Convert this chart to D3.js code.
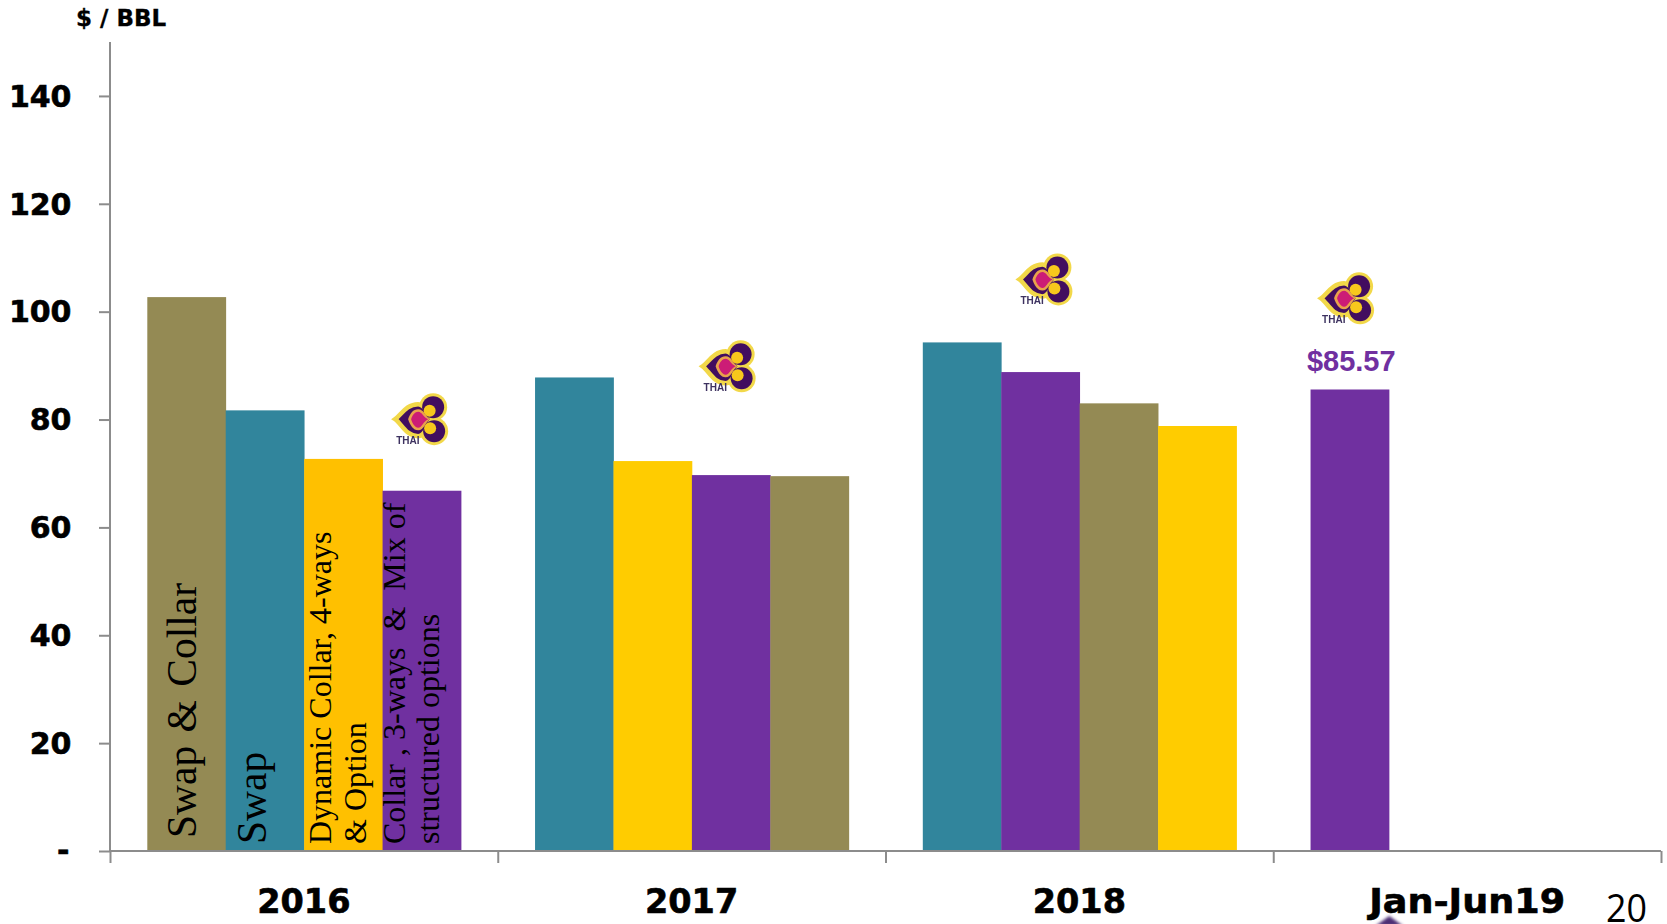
<!DOCTYPE html>
<html><head><meta charset="utf-8">
<script src="https://cdn.jsdelivr.net/npm/d3@7"></script>
<style>html,body{margin:0;padding:0;background:#fff;overflow:hidden}svg{display:block}text{white-space:pre}</style>
</head><body><svg id="c" width="1667" height="924"></svg>
<script>
const periods = ["2016","2017","2018","Jan-Jun19"];
const yTickValues = [0,20,40,60,80,100,120,140];
const values2016 = [102.7,81.7,72.7,66.8];
const values2017 = [87.8,72.3,69.7,69.5];
const values2018 = [94.3,88.8,83.0,78.8];
const values2019 = [85.57];
const kinds2016 = ["olive","teal","amber","purple"];
const kinds2017 = ["teal","yellow","purple","olive"];
const kinds2018 = ["teal","purple","olive","yellow"];
const kinds2019 = ["purple"];
const logoLevels = [79.7,89.5,105.6,102.1];
const logoPositions = [0.805,1.598,2.415,3.193];
const annotation = "$85.57";
const colours = {olive:"#948A54",teal:"#31859C",amber:"#FFC000",yellow:"#FFCC00",purple:"#7030A0"};

const svg = d3.select("#c");
const x0 = d3.scaleBand().domain(periods).range([110,1661]);
const x1 = d3.scaleBand().domain(d3.range(4)).range([37.3,351]);
const xp = d3.scaleLinear().domain([0,4]).range([110,1661]);
const y = d3.scaleLinear().domain([0,150]).range([851,42]);

const groups = [
  {p:periods[0],v:values2016,k:kinds2016},
  {p:periods[1],v:values2017,k:kinds2017},
  {p:periods[2],v:values2018,k:kinds2018},
  {p:periods[3],v:values2019,k:kinds2019}];
groups.forEach(g=>{
  svg.append("g").selectAll("rect").data(g.v).join("rect")
    .attr("x",(d,i)=>x0(g.p)+x1(i)).attr("width",x1.bandwidth()+0.4)
    .attr("y",d=>y(d)).attr("height",d=>y(0)-y(d))
    .attr("fill",(d,i)=>colours[g.k[i]]);
});

// Axes
const axisCol="#8c8c8c";
const yAxis = d3.axisLeft(y).tickValues(yTickValues).tickSize(11).tickPadding(27.5)
  .tickFormat(d=>d===0?"-":d);
const ga = svg.append("g").attr("transform","translate(110,0)").call(yAxis);
ga.select(".domain").attr("stroke",axisCol).attr("stroke-width",2).attr("d","M0,42V851");
ga.selectAll("line").attr("stroke",axisCol).attr("stroke-width",2);
ga.selectAll("text").attr("font-family","DejaVu Sans").attr("font-weight","bold")
  .attr("font-size",30).attr("fill","#000").attr("stroke","#000").attr("stroke-width",0.6).attr("dy","0.34em");
ga.selectAll(".tick").filter(d=>d===0).select("text").attr("dx",-2).attr("dy","0.32em");

const xAxis = d3.axisBottom(xp).tickValues([0,1,2,3,4]).tickSize(12).tickFormat("");
const gx = svg.append("g").attr("transform","translate(0,851)").call(xAxis);
gx.select(".domain").attr("stroke",axisCol).attr("stroke-width",2).attr("d","M110,0H1661");
gx.selectAll("line").attr("stroke",axisCol).attr("stroke-width",2);

svg.append("g").selectAll("text").data(periods).join("text")
  .attr("x",d=>x0(d)+x0.bandwidth()/2).attr("y",913)
  .attr("text-anchor","middle").attr("font-family","DejaVu Sans").attr("font-weight","bold")
  .attr("font-size",33.5).attr("fill","#000").attr("stroke","#000").attr("stroke-width",0.6)
  .attr("textLength",d=>d===periods[3]?196:null).attr("lengthAdjust","spacingAndGlyphs").text(d=>d);

svg.append("text").attr("x",76).attr("y",26).attr("font-family","DejaVu Sans")
  .attr("font-weight","bold").attr("font-size",23).attr("fill","#000").attr("stroke","#000").attr("stroke-width",0.3).text("$ / BBL");

svg.append("text").attr("x",1606).attr("y",922).attr("font-family","Open Sans")
  .attr("font-size",38).attr("textLength",41).attr("lengthAdjust","spacingAndGlyphs").attr("fill","#000").text("20");

svg.append("text").attr("x",x0(periods[3])+x1(0)+x1.bandwidth()/2+1.5).attr("y",y(values2019[0])-18)
  .attr("text-anchor","middle").attr("font-family","Liberation Sans").attr("font-weight","bold")
  .attr("font-size",29).attr("fill",colours.purple).text(annotation);

// Rotated serif labels inside the 2016 bars
const labels = [
  {t:"Swap & Collar",x:196,fs:41.5,b:838,ws:3},
  {t:"Swap",x:266,fs:41.5,b:844,ws:0},
  {t:"Dynamic Collar, 4-ways",x:331,fs:32,b:844,ws:0},
  {t:"& Option",x:366,fs:32,b:844,ws:0},
  {t:"Collar , 3-ways  &  Mix of",x:405,fs:32,b:844,ws:0},
  {t:"structured options",x:439,fs:32,b:844,ws:0}];
svg.append("g").selectAll("text").data(labels).join("text")
  .attr("transform",d=>`translate(${d.x},${d.b}) rotate(-90)`)
  .attr("font-family","Liberation Serif").attr("font-size",d=>d.fs)
  .attr("word-spacing",d=>d.ws).attr("fill","#000").text(d=>d.t);

// Logo
const defs = svg.append("defs");
defs.append("filter").attr("id","soft").attr("x","-20%").attr("y","-20%").attr("width","140%").attr("height","140%")
  .append("feGaussianBlur").attr("stdDeviation",0.7);
defs.append("filter").attr("id","soft2").attr("x","-50%").attr("y","-50%").attr("width","200%").attr("height","200%")
  .append("feGaussianBlur").attr("stdDeviation",1.6);
const logos = svg.append("g").selectAll("g").data(logoPositions).join("g")
  .attr("transform",(d,i)=>`translate(${xp(d)},${y(logoLevels[i])})`).attr("filter","url(#soft)");
logos.each(function(){
  const g=d3.select(this);
  const halo="#F2D84A", dark="#43105F", gold="#F7C81C";
  const drop="M-27,-2C-21,-6 -16,-17 -4,-17C4,-17 5,-6 11,-2C5,2 4,15 -4,15C-16,15 -21,2 -27,-2Z";
  g.append("circle").attr("cx",11).attr("cy",-14).attr("r",14).attr("fill",halo);
  g.append("circle").attr("cx",12).attr("cy",10).attr("r",14).attr("fill",halo);
  g.append("path").attr("d",drop).attr("fill",dark).attr("stroke",halo).attr("stroke-width",4.5);
  g.append("circle").attr("cx",11).attr("cy",-14).attr("r",11).attr("fill",dark);
  g.append("circle").attr("cx",12).attr("cy",10).attr("r",11).attr("fill",dark);
  g.append("circle").attr("cx",7.5).attr("cy",-10.5).attr("r",6).attr("fill",gold);
  g.append("circle").attr("cx",8).attr("cy",7).attr("r",6).attr("fill",gold);
  g.append("path").attr("d","M-14,-2C-12,-8 -9,-12 -4,-12C2,-12 3,-5 8,-2C3,1 2,9 -4,9C-9,9 -12,4 -14,-2Z").attr("fill","#E9A24C");
  g.append("path").attr("d","M-11,-2C-10,-6 -7,-9.5 -4,-9.5C0,-9.5 1,-4 6,-2C1,0 0,6.5 -4,6.5C-7,6.5 -10,2 -11,-2Z").attr("fill","#CC1A76");
  g.append("text").attr("x",-26).attr("y",23).attr("font-family","Liberation Sans").attr("font-weight","bold")
   .attr("font-size",10).attr("fill","#3E3360").text("THAI");
});

// Partly visible logo tip at the bottom edge
svg.append("path").attr("transform",`translate(${xp(3)+116},0)`)
  .attr("d","M0,916L14,926H-14Z").attr("fill","#4E2F75").attr("filter","url(#soft2)");
</script></body></html>
